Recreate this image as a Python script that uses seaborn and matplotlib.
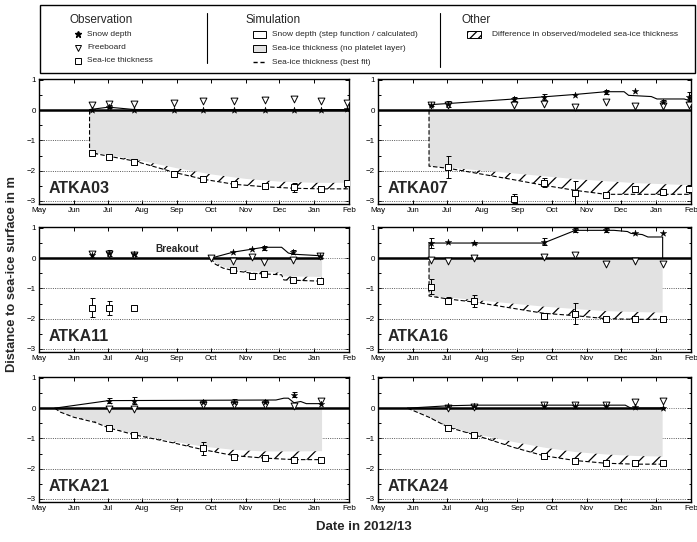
import numpy as np
import pandas as pd
import matplotlib
matplotlib.use("Agg")
import matplotlib.pyplot as plt
import matplotlib.dates as mdates
from matplotlib.patches import Rectangle
import seaborn as sns

nan = np.nan

# ---------------------------------------------------------------- data
stations = ["ATKA03", "ATKA07", "ATKA11", "ATKA16", "ATKA21", "ATKA24"]
y_ticks = [-3, -2, -1, 0, 1]

# ATKA03
a03_dates = ["2012-06-17", "2012-07-02", "2012-07-25", "2012-08-29", "2012-09-24",
             "2012-10-22", "2012-11-18", "2012-12-14", "2013-01-07", "2013-01-30"]
a03_snow = [0.02, 0.12, 0.02, 0.01, 0.01, 0.01, 0.01, 0.01, 0.01, 0.03]
a03_snow_err = [0, 0.06, 0, 0, 0, 0, 0, 0, 0, 0]
a03_freeboard = [0.16, 0.2, 0.22, 0.25, 0.3, 0.3, 0.32, 0.38, 0.3, 0.25]
a03_ice = [-1.4, -1.55, -1.72, -2.1, -2.27, -2.43, -2.52, -2.55, -2.6, -2.4]
a03_ice_err = [0.05, 0.03, 0.1, 0.08, 0, 0, 0.05, 0.15, 0, 0]
a03_sim_snow_dates = ["2012-06-15", "2012-07-02", "2012-07-25", "2013-02-01"]
a03_sim_snow = [0.02, 0.1, 0.02, 0.02]
a03_sim_ice_dates = ["2012-06-15", "2012-07-01", "2012-08-01", "2012-09-01", "2012-10-01",
                     "2012-11-01", "2012-12-01", "2013-01-01", "2013-02-01"]
a03_sim_ice = [-1.38, -1.48, -1.68, -1.92, -2.12, -2.27, -2.36, -2.4, -2.4]
a03_fit_dates = ["2012-06-15", "2012-06-15", "2012-07-02", "2012-07-25", "2012-08-29",
                 "2012-09-24", "2012-10-22", "2012-11-18", "2012-12-14", "2013-01-07",
                 "2013-02-01"]
a03_fit = [0.0, -1.4, -1.52, -1.68, -2.05, -2.28, -2.45, -2.53, -2.58, -2.6, -2.6]

# ATKA07
a07_dates = ["2012-06-17", "2012-07-02", "2012-08-29", "2012-09-24", "2012-10-22",
             "2012-11-18", "2012-12-14", "2013-01-07", "2013-01-30"]
a07_snow = [0.18, 0.2, 0.38, 0.44, 0.5, 0.6, 0.63, 0.28, 0.45]
a07_snow_err = [0.05, 0.1, 0.07, 0.1, 0, 0.06, 0, 0.05, 0.15]
a07_freeboard = [0.17, 0.16, 0.16, 0.2, 0.11, 0.27, 0.14, 0.14, 0.16]
a07_ice = [nan, -1.88, -2.92, -2.4, -2.75, -2.8, -2.61, -2.7, -2.6]
a07_ice_err = [0, 0.35, 0.15, 0.15, 0.4, 0.1, 0, 0, 0.12]
a07_sim_snow_dates = ["2012-06-15", "2012-07-02", "2012-08-29", "2012-09-24", "2012-10-22",
                      "2012-11-18", "2012-12-04", "2012-12-08", "2012-12-28", "2013-01-02",
                      "2013-01-26", "2013-02-01"]
a07_sim_snow = [0.18, 0.22, 0.37, 0.44, 0.52, 0.61, 0.61, 0.49, 0.45, 0.37, 0.37, 0.3]
a07_sim_ice_dates = ["2012-06-15", "2012-07-02", "2012-08-29", "2012-10-22", "2012-12-14",
                     "2013-02-01"]
a07_sim_ice = [-1.85, -1.9, -2.09, -2.28, -2.41, -2.48]
a07_fit_dates = ["2012-06-15", "2012-06-15", "2012-07-02", "2012-08-29", "2012-09-24",
                 "2012-10-22", "2012-11-18", "2013-02-01"]
a07_fit = [0.0, -1.85, -1.92, -2.3, -2.48, -2.65, -2.78, -2.78]

# ATKA11
a11_dates = ["2012-06-17", "2012-07-02", "2012-07-25", "2012-10-01", "2012-10-21",
             "2012-11-07", "2012-11-17", "2012-12-13", "2013-01-06"]
a11_snow = [0.1, 0.18, 0.15, nan, 0.2, 0.3, 0.34, 0.2, 0.07]
a11_snow_err = [0, 0.1, 0.07, 0, 0, 0, 0.06, 0.07, 0]
a11_freeboard = [0.15, 0.15, 0.12, 0.0, -0.08, 0.03, -0.13, -0.07, 0.08]
a11_ice = [-1.63, -1.65, -1.65, nan, -0.4, -0.6, -0.53, -0.73, -0.75]
a11_ice_err = [0.3, 0.23, 0.03, 0, 0, 0, 0, 0, 0]
a11_sim_snow_dates = ["2012-10-01", "2012-10-21", "2012-11-07", "2012-11-17", "2012-12-03",
                      "2012-12-09", "2012-12-14", "2013-01-07", "2013-01-07"]
a11_sim_snow = [0.0, 0.2, 0.3, 0.36, 0.36, 0.17, 0.13, 0.08, 0.0]
a11_sim_ice_dates = ["2012-10-01", "2012-10-05", "2012-10-12", "2012-10-21", "2012-11-07",
                     "2012-12-03", "2012-12-05", "2013-01-08"]
a11_sim_ice = [0.0, -0.15, -0.28, -0.37, -0.44, -0.48, -0.6, -0.62]
a11_fit_dates = ["2012-10-01", "2012-10-05", "2012-10-12", "2012-10-21", "2012-11-07",
                 "2012-12-03", "2012-12-05", "2013-01-08"]
a11_fit = [0.0, -0.2, -0.33, -0.41, -0.5, -0.55, -0.72, -0.76]

# ATKA16
a16_dates = ["2012-06-17", "2012-07-02", "2012-07-25", "2012-09-24", "2012-10-22",
             "2012-11-18", "2012-12-14", "2013-01-07"]
a16_snow = [0.5, 0.55, 0.5, 0.55, 0.93, 0.93, 0.82, 0.82]
a16_snow_err = [0.17, 0, 0.03, 0.12, 0.07, 0.07, 0, 0]
a16_freeboard = [-0.05, -0.08, 0.0, 0.05, 0.1, -0.2, -0.1, -0.18]
a16_ice = [-0.95, -1.4, -1.42, -1.9, -1.83, -2.0, -2.0, -2.0]
a16_ice_err = [0.25, 0.12, 0.2, 0.1, 0.35, 0.07, 0, 0]
a16_sim_snow_dates = ["2012-06-15", "2012-06-15", "2012-09-24", "2012-10-22", "2012-11-25",
                      "2012-12-07", "2012-12-10", "2012-12-20", "2012-12-25", "2013-01-07",
                      "2013-01-07"]
a16_sim_snow = [0.0, 0.5, 0.5, 0.92, 0.92, 0.88, 0.82, 0.78, 0.7, 0.7, 0.0]
a16_sim_ice_dates = ["2012-06-15", "2012-07-02", "2012-07-25", "2012-09-24", "2012-10-22",
                     "2012-11-18", "2012-12-14", "2013-01-07"]
a16_sim_ice = [-1.25, -1.3, -1.38, -1.6, -1.68, -1.75, -1.78, -1.8]
a16_fit_dates = ["2012-06-15", "2012-06-15", "2012-07-02", "2012-07-25", "2012-09-24",
                 "2012-10-22", "2012-11-18", "2012-12-14", "2013-01-07"]
a16_fit = [-0.1, -1.25, -1.35, -1.45, -1.82, -1.9, -2.0, -2.02, -2.02]

# ATKA21
a21_dates = ["2012-07-02", "2012-07-25", "2012-09-24", "2012-10-22", "2012-11-18",
             "2012-12-14", "2013-01-07"]
a21_snow = [0.25, 0.25, 0.2, 0.22, 0.22, 0.45, 0.15]
a21_snow_err = [0.07, 0.12, 0.07, 0.07, 0.05, 0.07, 0]
a21_freeboard = [-0.03, -0.03, 0.1, 0.1, 0.1, 0.08, 0.25]
a21_ice = [-0.65, -0.88, -1.33, -1.6, -1.65, -1.7, -1.7]
a21_ice_err = [0, 0.03, 0.22, 0, 0, 0, 0]
a21_sim_snow_dates = ["2012-05-15", "2012-07-02", "2012-11-28", "2012-12-05", "2012-12-09",
                      "2012-12-14", "2012-12-20", "2012-12-25", "2013-01-08"]
a21_sim_snow = [0.0, 0.25, 0.27, 0.33, 0.33, 0.18, 0.22, 0.15, 0.15]
a21_sim_ice_dates = ["2012-05-15", "2012-05-20", "2012-06-01", "2012-06-20", "2012-07-02",
                     "2012-07-25", "2012-08-29", "2012-09-24", "2012-10-22", "2012-11-18",
                     "2012-12-14", "2013-01-08"]
a21_sim_ice = [0.0, -0.13, -0.28, -0.44, -0.62, -0.86, -1.1, -1.27, -1.38, -1.43, -1.43, -1.42]
a21_fit_dates = a21_sim_ice_dates
a21_fit = [0.0, -0.13, -0.3, -0.47, -0.65, -0.88, -1.15, -1.37, -1.57, -1.65, -1.7, -1.7]

# ATKA24
a24_dates = ["2012-07-02", "2012-07-25", "2012-09-24", "2012-10-22", "2012-11-18",
             "2012-12-14", "2013-01-07"]
a24_snow = [0.07, 0.08, 0.07, 0.07, 0.08, 0.05, 0.0]
a24_snow_err = [0, 0, 0, 0, 0, 0, 0]
a24_freeboard = [0.0, 0.05, 0.1, 0.1, 0.12, 0.2, 0.25]
a24_ice = [-0.65, -0.88, -1.58, -1.75, -1.82, -1.82, -1.8]
a24_ice_err = [0, 0, 0, 0, 0, 0, 0]
a24_sim_snow_dates = ["2012-05-27", "2012-07-02", "2012-07-25", "2012-12-05", "2012-12-10",
                      "2013-01-07"]
a24_sim_snow = [0.0, 0.08, 0.1, 0.1, 0.0, 0.0]
a24_sim_ice_dates = ["2012-05-27", "2012-06-15", "2012-07-02", "2012-07-25", "2012-08-29",
                     "2012-09-24", "2012-10-22", "2012-11-18", "2012-12-14", "2013-01-07"]
a24_sim_ice = [0.0, -0.28, -0.6, -0.85, -1.12, -1.3, -1.45, -1.53, -1.58, -1.6]
a24_fit_dates = a24_sim_ice_dates
a24_fit = [0.0, -0.3, -0.63, -0.88, -1.3, -1.57, -1.73, -1.82, -1.85, -1.85]

zero_line_end = ["2013-02-01", "2013-02-01", "2013-01-08", "2013-02-01", "2013-02-01", "2013-01-08"]

# ---------------------------------------------------------------- style
sns.set_style("ticks")
plt.rcParams["font.family"] = ["Liberation Sans", "DejaVu Sans"]
plt.rcParams["hatch.linewidth"] = 0.9
plt.rcParams["axes.edgecolor"] = "black"
plt.rcParams["xtick.color"] = "black"
plt.rcParams["ytick.color"] = "black"

W, H = 697, 542
fig = plt.figure(figsize=(W / 100, H / 100), dpi=100)

cols = [(39, 349), (378, 691)]
rows = [(79, 204), (227, 352), (377, 502)]

GRAY = "#e2e2e2"


def dnum(d):
    return mdates.date2num(pd.to_datetime(d).to_pydatetime())


X0, X1 = dnum(["2012-05-01", "2013-02-01"])

station_data = [
    (a03_dates, a03_snow, a03_snow_err, a03_freeboard, a03_ice, a03_ice_err,
     a03_sim_snow_dates, a03_sim_snow, a03_sim_ice_dates, a03_sim_ice, a03_fit_dates, a03_fit),
    (a07_dates, a07_snow, a07_snow_err, a07_freeboard, a07_ice, a07_ice_err,
     a07_sim_snow_dates, a07_sim_snow, a07_sim_ice_dates, a07_sim_ice, a07_fit_dates, a07_fit),
    (a11_dates, a11_snow, a11_snow_err, a11_freeboard, a11_ice, a11_ice_err,
     a11_sim_snow_dates, a11_sim_snow, a11_sim_ice_dates, a11_sim_ice, a11_fit_dates, a11_fit),
    (a16_dates, a16_snow, a16_snow_err, a16_freeboard, a16_ice, a16_ice_err,
     a16_sim_snow_dates, a16_sim_snow, a16_sim_ice_dates, a16_sim_ice, a16_fit_dates, a16_fit),
    (a21_dates, a21_snow, a21_snow_err, a21_freeboard, a21_ice, a21_ice_err,
     a21_sim_snow_dates, a21_sim_snow, a21_sim_ice_dates, a21_sim_ice, a21_fit_dates, a21_fit),
    (a24_dates, a24_snow, a24_snow_err, a24_freeboard, a24_ice, a24_ice_err,
     a24_sim_snow_dates, a24_sim_snow, a24_sim_ice_dates, a24_sim_ice, a24_fit_dates, a24_fit),
]

for i, (name, sd) in enumerate(zip(stations, station_data)):
    (od, snow, snow_err, fb, ice, ice_err, ssd, ss, sid, si, fd, fv) = sd
    r, c = divmod(i, 2)
    (xl, xr), (yt, yb) = cols[c], rows[r]
    ax = fig.add_axes([xl / W, 1 - yb / H, (xr - xl) / W, (yb - yt) / H])

    od = dnum(od)
    ssd = dnum(ssd)
    sid = dnum(sid)
    fd = dnum(fd)
    snow = np.array(snow, float); snow_err = np.array(snow_err, float)
    fb = np.array(fb, float)
    ice = np.array(ice, float); ice_err = np.array(ice_err, float)
    si = np.array(si, float); fv = np.array(fv, float)

    # reference lines
    for yv in (-1, -2, -3):
        ax.axhline(yv, color="0.35", lw=0.7, ls=(0, (1, 1.3)), zorder=1)
    ax.axhline(0, color="0.45", lw=0.7, ls=(0, (1, 1.3)), zorder=1)

    # simulated sea-ice (grey) and difference (hatched)
    gx = np.concatenate([[sid[0]], sid, [sid[-1]]])
    gy = np.concatenate([[0.0], si, [0.0]])
    ax.fill(gx, gy, facecolor=GRAY, edgecolor="none", zorder=2)
    hx = np.concatenate([sid, fd[::-1]])
    hy = np.concatenate([si, fv[::-1]])
    ax.fill(hx, hy, facecolor="none", edgecolor="black", hatch="//", linewidth=0, zorder=2.5)

    # zero line
    ax.plot([X0, dnum(zero_line_end[i])], [0, 0], color="black", lw=1.8, zorder=3)

    # simulated lines
    ax.plot(fd, fv, color="black", lw=0.8, ls=(0, (4, 2)), zorder=4)
    ax.plot(ssd, ss, color="black", lw=0.8, zorder=4)

    # error bars
    m = snow_err > 0
    if m.any():
        ax.errorbar(od[m], snow[m], yerr=snow_err[m], fmt="none", ecolor="black",
                    elinewidth=0.7, capsize=1.8, capthick=0.7, zorder=5)
    m = ice_err > 0
    if m.any():
        ax.errorbar(od[m], ice[m], yerr=ice_err[m], fmt="none", ecolor="black",
                    elinewidth=0.7, capsize=1.8, capthick=0.7, zorder=5)

    # observations
    sns.scatterplot(x=od, y=fb, marker="v", s=24, color="white", edgecolor="black",
                    linewidth=0.7, ax=ax, zorder=6, legend=False)
    sns.scatterplot(x=od, y=snow, marker="*", s=24, color="black", edgecolor="black",
                    linewidth=0.3, ax=ax, zorder=7, legend=False)
    sns.scatterplot(x=od, y=ice, marker="s", s=14, color="white", edgecolor="black",
                    linewidth=0.7, ax=ax, zorder=7, legend=False)

    ax.set_xlim(X0, X1)
    ax.set_ylim(-3.1, 1.03)
    ax.set_xlabel("")
    ax.set_ylabel("")
    ax.xaxis.set_major_locator(mdates.MonthLocator())
    ax.xaxis.set_major_formatter(mdates.DateFormatter("%b"))
    ax.set_yticks(y_ticks)
    ax.set_yticks([-2.5, -1.5, -0.5, 0.5], minor=True)
    ax.tick_params(which="both", direction="in", top=True, right=True, width=0.7,
                   labelsize=5.8, pad=2)
    ax.tick_params(which="major", length=3)
    ax.tick_params(which="minor", length=1.8)
    for s in ax.spines.values():
        s.set_linewidth(1.0)
        s.set_color("black")

    ax.text(0.032, 0.088, name, transform=ax.transAxes, fontsize=11.5,
            fontweight="bold", va="baseline", ha="left", zorder=8)
    if name == "ATKA11":
        ax.text(dnum("2012-09-01"), 0.3, "Breakout", fontsize=7.2,
                fontweight="bold", ha="center", va="center", zorder=8)

# ---------------------------------------------------------------- legend
lg = fig.add_axes([0, 0, 1, 1], zorder=10)
lg.set_xlim(0, W)
lg.set_ylim(H, 0)
lg.axis("off")
lg.add_patch(Rectangle((40, 5), 655, 68, facecolor="none", edgecolor="black", lw=1.0))
lg.plot([207, 207], [13, 63], color="black", lw=0.8)
lg.plot([440, 440], [13, 67], color="black", lw=0.8)

lg.text(70, 20, "Observation", fontsize=8.5, va="center", ha="left")
lg.plot([78], [34], marker="*", color="black", ms=4.5, ls="none")
lg.plot([78], [47.5], marker="v", mfc="white", mec="black", mew=0.7, ms=4.5, ls="none")
lg.plot([78], [61], marker="s", mfc="white", mec="black", mew=0.7, ms=3.8, ls="none")
lg.text(87, 34, "Snow depth", fontsize=6, va="center")
lg.text(87, 47.5, "Freeboard", fontsize=6, va="center")
lg.text(87, 61, "Sea-ice thickness", fontsize=6, va="center")

lg.text(245, 20, "Simulation", fontsize=8.5, va="center", ha="left")
lg.add_patch(Rectangle((253, 31), 13, 6.5, facecolor="white", edgecolor="black", lw=0.7))
lg.add_patch(Rectangle((253, 45), 13, 6.5, facecolor=GRAY, edgecolor="black", lw=0.7))
lg.plot([253, 266], [62, 62], color="black", lw=1.0, ls=(0, (3, 2)))
lg.text(272, 34, "Snow depth (step function / calculated)", fontsize=6, va="center")
lg.text(272, 48, "Sea-ice thickness (no platelet layer)", fontsize=6, va="center")
lg.text(272, 62, "Sea-ice thickness (best fit)", fontsize=6, va="center")

lg.text(462, 20, "Other", fontsize=8.5, va="center", ha="left")
lg.add_patch(Rectangle((467, 31), 14, 7, facecolor="white", edgecolor="black",
                       hatch="////", lw=0.7))
lg.text(492, 34.5, "Difference in observed/modeled sea-ice thickness", fontsize=6, va="center")

fig.text(12 / W, 1 - 274 / H, "Distance to sea-ice surface in m", rotation=90,
         fontsize=9.3, fontweight="bold", ha="center", va="center")
fig.text(364 / W, 1 - 527 / H, "Date in 2012/13", fontsize=9.5, fontweight="bold",
         ha="center", va="center")

fig.savefig("out.png", dpi=100)
